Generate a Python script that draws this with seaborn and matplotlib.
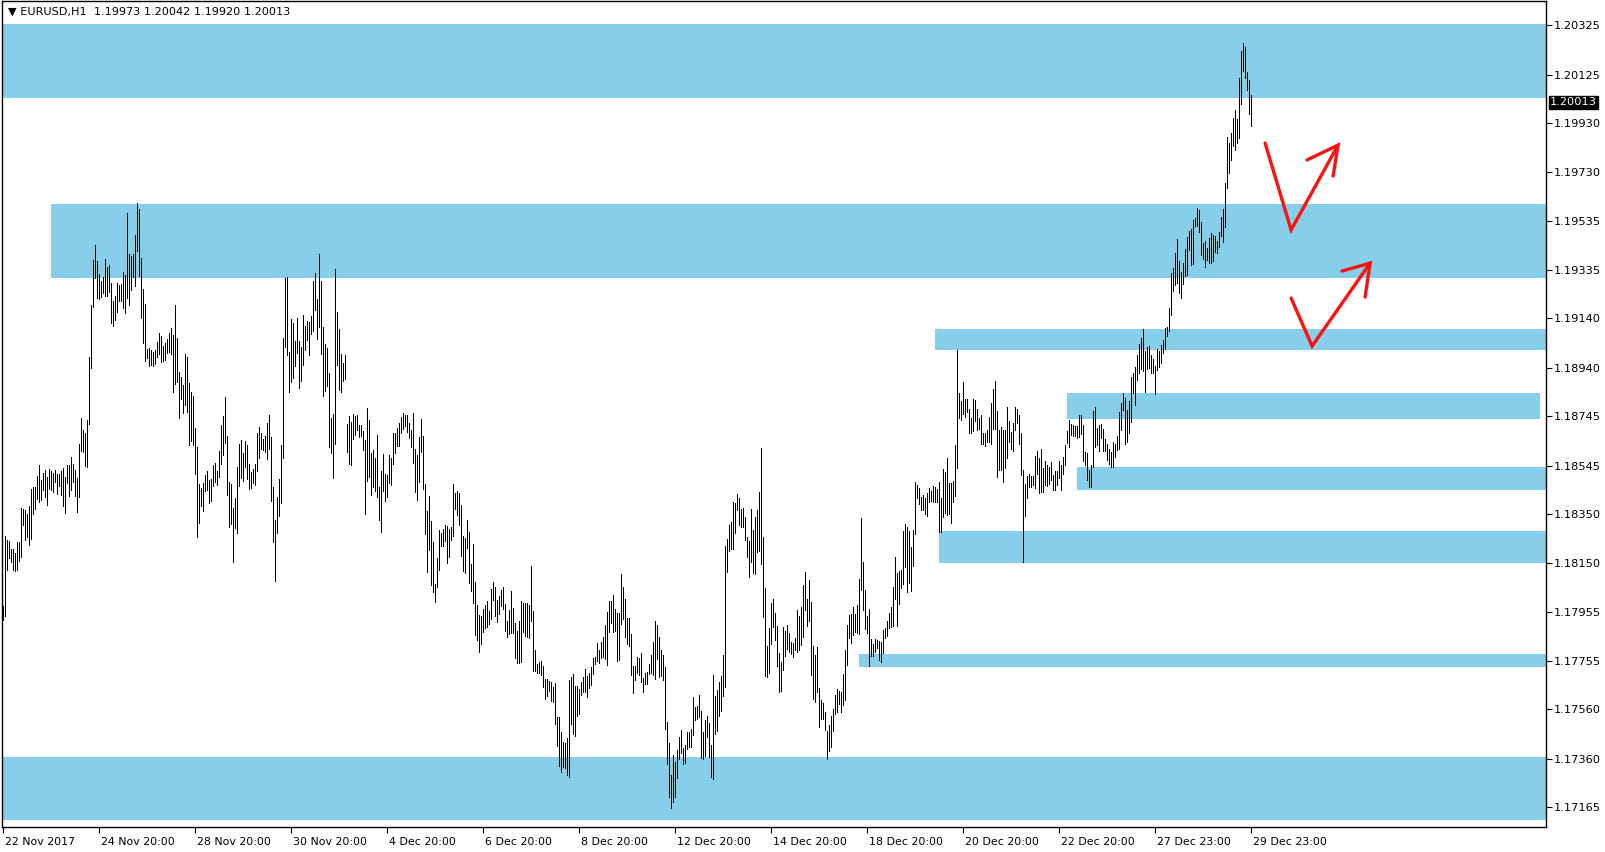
import matplotlib
matplotlib.use("Agg")
import matplotlib.pyplot as plt
import matplotlib.transforms as mtransforms
import numpy as np
import seaborn as sns

sns.set_style("white")
plt.rcParams['font.family'] = ['DejaVu Sans']

# EURUSD H1 bars, high / low per hour
highs = [1.17978,
    1.18260,1.18244,1.18240,1.18210,1.18207,1.18192,1.18236,1.18236,1.18372,1.18369,
    1.18365,1.18349,1.18381,1.18452,1.18459,1.18459,1.18502,1.18549,1.18486,1.18517,
    1.18529,1.18497,1.18533,1.18522,1.18517,1.18526,1.18513,1.18513,1.18522,1.18537,
    1.18500,1.18549,1.18547,1.18579,1.18551,1.18529,1.18496,1.18634,1.18739,1.18688,
    1.18675,1.18731,1.18982,1.19192,1.19375,1.19436,1.19371,1.19321,1.19290,1.19308,
    1.19379,1.19347,1.19355,1.19281,1.19211,1.19232,1.19282,1.19274,1.19278,1.19327,
    1.19317,1.19564,1.19399,1.19391,1.19399,1.19476,1.19604,1.19581,1.19382,1.19259,
    1.19197,1.19018,1.19020,1.19011,1.19002,1.19011,1.19044,1.19079,1.19069,1.19028,
    1.19040,1.19057,1.19079,1.19100,1.19071,1.19192,1.19060,1.18925,1.18901,1.18870,
    1.18995,1.18985,1.18878,1.18844,1.18828,1.18696,1.18621,1.18470,1.18455,1.18474,
    1.18509,1.18522,1.18487,
    1.18492,1.18547,1.18555,1.18522,1.18603,1.18708,1.18745,1.18821,1.18664,1.18478,
    1.18470,1.18372,1.18416,1.18540,1.18632,1.18648,1.18595,1.18644,1.18628,1.18553,
    1.18518,1.18531,1.18551,1.18676,1.18700,1.18677,1.18653,1.18663,1.18716,1.18749,
    1.18660,1.18459,1.18324,1.18417,1.18490,1.18628,1.19060,1.19302,1.19305,1.19003,
    1.19137,1.19121,1.19049,1.19141,1.19049,1.19025,1.19153,1.19110,1.19130,1.19125,
    1.19150,1.19292,1.19323,1.19218,1.19399,1.19292,1.19104,1.19037,1.19020,1.18920,
    1.18737,1.18753,1.19339,1.19165,1.19096,1.18995,1.18960,1.18991,1.18712,1.18745,
    1.18720,1.18753,1.18746,1.18750,1.18708,1.18708,1.18684,1.18648,1.18777,1.18730,
    1.18595,1.18607,1.18575,1.18668,1.18458,1.18522,1.18591,1.18510,1.18506,1.18587,
    1.18576,1.18676,1.18676,1.18696,1.18716,1.18741,1.18757,1.18749,1.18749,1.18716,
    1.18688,1.18757,1.18611,1.18587,1.18660,
    1.18732,1.18664,1.18470,1.18361,1.18422,1.18321,1.18236,1.18066,1.18171,1.18285,
    1.18274,1.18289,1.18305,1.18302,1.18290,1.18297,1.18470,1.18434,1.18442,1.18434,
    1.18385,1.18262,1.18253,1.18325,1.18276,1.18147,1.18228,1.18074,1.17981,1.17941,
    1.17937,1.17965,1.17981,1.17998,1.17957,1.18046,1.18074,1.18054,1.18003,1.18018,
    1.18042,1.18054,1.17985,1.17917,1.17961,1.18038,1.17971,1.17909,1.17876,1.17917,
    1.17998,1.17989,1.17989,1.17989,1.17981,1.18139,1.17957,1.17800,1.17743,1.17750,
    1.17755,1.17735,1.17682,1.17682,1.17676,1.17670,1.17650,1.17666,1.17529,1.17529,
    1.17468,1.17428,1.17424,1.17444,1.17678,1.17690,1.17703,1.17654,1.17654,1.17642,
    1.17670,1.17690,1.17725,1.17695,1.17707,1.17731,1.17769,1.17773,1.17828,1.17800,
    1.17832,1.17852,1.17901,1.17953,1.17998,1.17998,1.18023,1.17965,1.17949,1.17949,
    1.18107,1.18054,1.18006,1.17929,1.17929,
    1.17864,1.17735,1.17735,1.17771,1.17767,1.17787,1.17686,1.17707,1.17711,1.17743,
    1.17779,1.17832,1.17917,1.17901,1.17852,1.17800,1.17779,1.17731,1.17509,1.17424,
    1.17294,1.17375,1.17347,1.17395,1.17448,1.17476,1.17405,1.17416,1.17468,1.17468,
    1.17480,1.17610,1.17569,1.17573,1.17618,1.17553,1.17468,1.17517,1.17533,1.17505,
    1.17416,1.17698,1.17614,1.17638,1.17670,1.17694,1.17779,1.18220,1.18248,1.18305,
    1.18317,1.18398,1.18394,1.18430,1.18414,1.18369,1.18373,1.18337,1.18256,1.18240,
    1.18369,1.18284,1.18337,1.18365,1.18438,1.18616,1.18256,1.18050,1.17816,1.17890,
    1.17991,1.18006,1.17949,1.17896,1.17787,1.17751,1.17892,1.17876,1.17901,1.17868,
    1.17832,1.17828,1.17848,1.17961,1.17937,1.17973,1.18062,1.18115,1.18006,1.18082,
    1.17994,1.17816,1.17779,1.17812,1.17646,1.17597,1.17587,1.17550,1.17472,1.17496,
    1.17533,1.17561,1.17618,1.17642,1.17634,
    1.17630,1.17703,1.17800,1.17901,1.17941,1.17945,1.17974,1.17945,1.17982,1.18087,
    1.18333,1.18156,1.18042,1.17937,1.17966,1.17844,1.17824,1.17844,1.17840,1.17836,
    1.17832,1.17881,1.17889,1.17917,1.17949,1.17974,1.18054,1.18176,1.18111,1.18119,
    1.18123,1.18281,1.18309,1.18297,1.18281,1.18216,1.18285,1.18479,1.18467,1.18456,
    1.18418,1.18428,1.18415,1.18434,1.18455,1.18444,1.18463,1.18459,1.18450,1.18479,
    1.18415,1.18531,1.18521,1.18576,1.18475,1.18475,1.18483,1.18628,1.19012,1.18838,
    1.18806,1.18883,1.18814,1.18814,1.18774,1.18737,1.18814,1.18810,1.18775,1.18737,
    1.18750,1.18678,1.18677,1.18689,1.18741,1.18798,1.18855,1.18887,1.18766,1.18689,
    1.18701,1.18689,1.18689,1.18782,1.18725,1.18681,1.18717,1.18782,1.18774,1.18750,
    1.18677,1.18527,1.18471,1.18504,1.18511,1.18504,1.18503,1.18584,1.18604,1.18576,
    1.18612,1.18535,1.18564,1.18548,1.18541,
    1.18559,1.18507,1.18524,1.18524,1.18563,1.18547,1.18581,1.18628,1.18685,1.18729,
    1.18713,1.18709,1.18705,1.18705,1.18749,1.18749,1.18709,1.18600,1.18596,1.18527,
    1.18547,1.18765,1.18782,1.18697,1.18709,1.18713,1.18693,1.18652,1.18632,1.18612,
    1.18600,1.18640,1.18632,1.18664,1.18761,1.18798,1.18838,1.18818,1.18769,1.18806,
    1.18903,1.18919,1.18943,1.18992,1.19036,1.19060,1.19097,1.19009,1.19025,1.19028,
    1.18993,1.18976,1.18949,1.19016,1.19008,1.19032,1.19052,1.19101,1.19105,1.19183,
    1.19323,1.19343,1.19405,1.19460,1.19372,1.19327,1.19363,1.19420,1.19469,1.19493,
    1.19501,1.19537,1.19547,1.19586,1.19578,1.19529,1.19443,1.19452,1.19425,1.19464,
    1.19485,1.19477,1.19473,1.19452,1.19489,1.19551,1.19582,1.19685,1.19874,1.19850,
    1.19889,1.19949,1.19982,1.19945,1.20111,1.20220,1.20252,1.20236,1.20137,1.20103,
    1.20042]

lows = [1.17921,
    1.17937,1.18122,1.18170,1.18156,1.18122,1.18118,1.18122,1.18160,1.18176,1.18304,
    1.18244,1.18257,1.18223,1.18250,1.18351,1.18369,1.18412,1.18399,1.18405,1.18446,
    1.18419,1.18385,1.18452,1.18446,1.18439,1.18479,1.18432,1.18462,1.18425,1.18381,
    1.18354,1.18473,1.18421,1.18446,1.18479,1.18423,1.18358,1.18419,1.18605,1.18601,
    1.18543,1.18540,1.18715,1.18940,1.19184,1.19304,1.19224,1.19219,1.19227,1.19243,
    1.19230,1.19230,1.19247,1.19122,1.19110,1.19133,1.19166,1.19211,1.19211,1.19183,
    1.19162,1.19223,1.19193,1.19254,1.19305,1.19270,1.19413,1.19312,1.19142,1.19041,
    1.18968,1.18978,1.18948,1.18950,1.18948,1.18954,1.18985,1.18994,1.18964,1.18967,
    1.18971,1.18998,1.19005,1.18995,1.18843,1.18874,1.18882,1.18738,1.18813,1.18758,
    1.18789,1.18762,1.18629,1.18644,1.18630,1.18512,1.18257,1.18315,1.18382,1.18362,
    1.18442,1.18446,1.18392,
    1.18403,1.18463,1.18479,1.18466,1.18497,1.18551,1.18587,1.18638,1.18425,1.18298,
    1.18308,1.18156,1.18294,1.18273,1.18463,1.18496,1.18482,1.18540,1.18489,1.18450,
    1.18455,1.18473,1.18467,1.18522,1.18576,1.18611,1.18607,1.18598,1.18571,1.18611,
    1.18401,1.18237,1.18079,1.18273,1.18342,1.18394,1.18576,1.19025,1.18991,1.18843,
    1.18883,1.18900,1.18947,1.18999,1.18858,1.18888,1.18952,1.19013,1.19052,1.18993,
    1.19076,1.19090,1.19174,1.19056,1.19104,1.18995,1.18827,1.18846,1.18867,1.18621,
    1.18597,1.18496,1.18632,1.18951,1.18850,1.18842,1.18886,1.18896,1.18601,1.18551,
    1.18547,1.18653,1.18669,1.18688,1.18661,1.18664,1.18609,1.18349,1.18483,1.18500,
    1.18427,1.18459,1.18442,1.18417,1.18324,1.18277,1.18442,1.18403,1.18419,1.18473,
    1.18467,1.18551,1.18595,1.18625,1.18625,1.18677,1.18692,1.18706,1.18681,1.18656,
    1.18621,1.18556,1.18438,1.18405,1.18478,
    1.18601,1.18451,1.18267,1.18116,1.18204,1.18064,1.18035,1.17995,1.18055,1.18123,
    1.18221,1.18221,1.18239,1.18152,1.18177,1.18245,1.18262,1.18371,1.18346,1.18306,
    1.18181,1.18119,1.18112,1.18213,1.18072,1.18039,1.17988,1.17860,1.17841,1.17793,
    1.17825,1.17874,1.17887,1.17892,1.17906,1.17925,1.18004,1.17938,1.17914,1.17946,
    1.17979,1.17967,1.17878,1.17853,1.17863,1.17870,1.17870,1.17769,1.17748,1.17748,
    1.17752,1.17871,1.17857,1.17853,1.17849,1.17918,1.17716,1.17716,1.17708,1.17708,
    1.17700,1.17651,1.17603,1.17615,1.17635,1.17593,1.17589,1.17502,1.17413,1.17332,
    1.17308,1.17328,1.17324,1.17296,1.17288,1.17500,1.17460,1.17453,1.17534,1.17542,
    1.17618,1.17631,1.17631,1.17611,1.17647,1.17659,1.17704,1.17742,1.17756,1.17748,
    1.17766,1.17770,1.17765,1.17740,1.17874,1.17911,1.17874,1.17878,1.17756,1.17759,
    1.17905,1.17926,1.17853,1.17824,1.17817,
    1.17700,1.17627,1.17678,1.17707,1.17700,1.17672,1.17631,1.17663,1.17663,1.17704,
    1.17707,1.17698,1.17682,1.17765,1.17692,1.17694,1.17680,1.17482,1.17340,1.17207,
    1.17162,1.17186,1.17206,1.17284,1.17360,1.17385,1.17340,1.17344,1.17401,1.17408,
    1.17409,1.17457,1.17518,1.17522,1.17530,1.17363,1.17360,1.17373,1.17449,1.17369,
    1.17288,1.17280,1.17461,1.17474,1.17534,1.17554,1.17615,1.17651,1.18116,1.18201,
    1.18208,1.18209,1.18274,1.18365,1.18305,1.18295,1.18298,1.18244,1.18177,1.18096,
    1.18156,1.18112,1.18108,1.18194,1.18200,1.18148,1.17934,1.17696,1.17692,1.17708,
    1.17825,1.17894,1.17841,1.17736,1.17631,1.17635,1.17720,1.17777,1.17804,1.17793,
    1.17782,1.17773,1.17802,1.17793,1.17800,1.17820,1.17853,1.17961,1.17898,1.17918,
    1.17701,1.17603,1.17592,1.17630,1.17490,1.17522,1.17522,1.17476,1.17360,1.17393,
    1.17409,1.17473,1.17541,1.17550,1.17583,
    1.17550,1.17578,1.17598,1.17739,1.17847,1.17829,1.17860,1.17874,1.17867,1.17866,
    1.18042,1.17962,1.17885,1.17870,1.17737,1.17777,1.17776,1.17793,1.17807,1.17760,
    1.17753,1.17789,1.17847,1.17858,1.17890,1.17894,1.17898,1.18007,1.17898,1.17986,
    1.18049,1.18067,1.18137,1.18036,1.18069,1.18040,1.18141,1.18270,1.18415,1.18391,
    1.18367,1.18366,1.18349,1.18343,1.18397,1.18403,1.18399,1.18399,1.18397,1.18278,
    1.18278,1.18339,1.18355,1.18345,1.18348,1.18314,1.18398,1.18422,1.18537,1.18737,
    1.18729,1.18754,1.18740,1.18763,1.18678,1.18678,1.18686,1.18727,1.18689,1.18694,
    1.18632,1.18632,1.18624,1.18642,1.18640,1.18632,1.18694,1.18694,1.18500,1.18527,
    1.18527,1.18480,1.18534,1.18577,1.18639,1.18613,1.18605,1.18689,1.18716,1.18634,
    1.18508,1.18157,1.18343,1.18415,1.18460,1.18459,1.18467,1.18456,1.18511,1.18436,
    1.18437,1.18440,1.18467,1.18463,1.18471,
    1.18487,1.18446,1.18446,1.18466,1.18493,1.18446,1.18513,1.18547,1.18635,1.18619,
    1.18669,1.18664,1.18664,1.18655,1.18659,1.18672,1.18565,1.18547,1.18487,1.18457,
    1.18457,1.18540,1.18621,1.18628,1.18605,1.18655,1.18605,1.18605,1.18567,1.18551,
    1.18540,1.18540,1.18581,1.18608,1.18614,1.18689,1.18769,1.18633,1.18641,1.18678,
    1.18722,1.18837,1.18790,1.18891,1.18920,1.18934,1.18928,1.18844,1.18936,1.18938,
    1.18918,1.18918,1.18835,1.18931,1.18945,1.18961,1.19001,1.19015,1.19068,1.19090,
    1.19153,1.19252,1.19275,1.19281,1.19241,1.19223,1.19279,1.19311,1.19315,1.19416,
    1.19355,1.19359,1.19513,1.19513,1.19490,1.19396,1.19381,1.19349,1.19376,1.19362,
    1.19362,1.19370,1.19409,1.19405,1.19429,1.19473,1.19450,1.19510,1.19668,1.19729,
    1.19780,1.19836,1.19819,1.19847,1.19869,1.20007,1.20141,1.20112,1.20063,1.19967,
    1.19918]

date_labels = ["22 Nov 2017", "24 Nov 20:00", "28 Nov 20:00", "30 Nov 20:00",
               "4 Dec 20:00", "6 Dec 20:00", "8 Dec 20:00", "12 Dec 20:00",
               "14 Dec 20:00", "18 Dec 20:00", "20 Dec 20:00", "22 Dec 20:00",
               "27 Dec 23:00", "29 Dec 23:00"]
date_label_bars = [0, 48, 96, 144, 192, 240, 288, 336, 384, 432, 480, 528, 576, 624]

price_ticks = [1.20325, 1.20125, 1.19930, 1.19730, 1.19535, 1.19335, 1.19140,
               1.18940, 1.18745, 1.18545, 1.18350, 1.18150, 1.17955, 1.17755,
               1.17560, 1.17360, 1.17165]

# support / resistance zones: first bar, last bar, top price, bottom price
zone_start = [-0.65, 23.85, 465.85, 531.85, 536.85, 467.85, 427.85, -0.65]
zone_end = [771.35, 771.35, 771.35, 768.35, 771.35, 771.35, 771.35, 771.35]
zone_top = [1.20329, 1.19602, 1.19097, 1.18838, 1.18539, 1.18281, 1.17784, 1.17368]
zone_bottom = [1.20031, 1.19302, 1.19011, 1.18733, 1.18448, 1.18153, 1.17733, 1.17113]

# hand drawn red arrows (bar index, price)
arrow1_x = [630.9, 643.9, 667.4]
arrow1_y = [1.19848, 1.19497, 1.19840]
arrow1_head_x = [651.9, 667.4, 664.9]
arrow1_head_y = [1.19780, 1.19840, 1.19715]
arrow2_x = [643.9, 654.4, 683.4]
arrow2_y = [1.19222, 1.19028, 1.19363]
arrow2_head_x = [669.4, 683.4, 680.9]
arrow2_head_y = [1.19331, 1.19363, 1.19226]

last_price = 1.20013
header = "\u25bc EURUSD,H1  1.19973 1.20042 1.19920 1.20013"

W, H = 1606, 852
fig = plt.figure(figsize=(W / 100, H / 100), dpi=100)
ax = fig.add_axes([2 / W, 1 - 827 / H, 1544 / W, 826 / H])

for x0, x1, top, bot in zip(zone_start, zone_end, zone_top, zone_bottom):
    ax.fill_between([x0, x1], bot, top, color="#87CEEB", lw=0, zorder=1)

bars = np.arange(len(highs))
ax.vlines(bars, lows, highs, colors="black", linewidth=0.72, zorder=2,
          antialiaseds=False)

red = "#FF1010"
for xs, ys in [(arrow1_x, arrow1_y), (arrow1_head_x, arrow1_head_y),
               (arrow2_x, arrow2_y), (arrow2_head_x, arrow2_head_y)]:
    ax.plot(xs, ys, color=red, lw=2.4, solid_capstyle="round",
            solid_joinstyle="miter", zorder=3)

ax.set_xlim(-0.65, 771.35)
ax.set_ylim(1.17085, 1.20422)

for side in ["top", "bottom", "left", "right"]:
    ax.spines[side].set_color("black")
    ax.spines[side].set_linewidth(1.0)

ax.yaxis.tick_right()
ax.set_yticks(price_ticks)
ax.set_yticklabels([f"{p:.5f}" for p in price_ticks])
ax.tick_params(axis="y", direction="out", length=4, width=0.8, pad=1.5,
               labelsize=8.2, colors="black", right=True, left=False)
for lab in ax.get_yticklabels():
    lab.set_horizontalalignment("left")

ax.set_xticks(date_label_bars)
ax.set_xticklabels(date_labels)
ax.tick_params(axis="x", direction="out", length=4, width=0.8, pad=3,
               labelsize=7.9, colors="black", bottom=True)
shift = mtransforms.ScaledTranslation(1.5 / 100, 0, fig.dpi_scale_trans)
for lab in ax.get_xticklabels():
    lab.set_horizontalalignment("left")
    lab.set_transform(lab.get_transform() + shift)

ax.grid(False)

fig.text(8 / W, 1 - 12 / H, header, fontsize=8.1, va="center", ha="left",
         color="black")

ax.text(1.0 + 4 / 1544, last_price, "1.20013", transform=ax.get_yaxis_transform(),
        fontsize=8.2, color="white", va="center", ha="left", zorder=5,
        bbox=dict(boxstyle="square,pad=0.12", fc="black", ec="black"),
        clip_on=False)

fig.savefig("out.png", dpi=100, facecolor="white")
